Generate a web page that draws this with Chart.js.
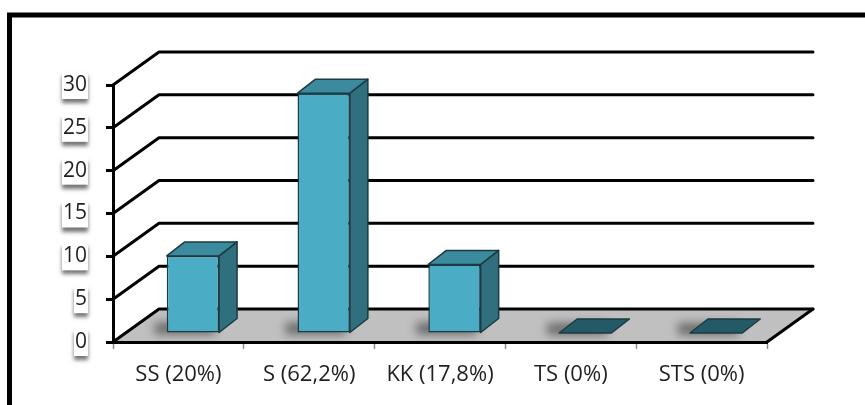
<!DOCTYPE html>
<html>
<head>
<meta charset="utf-8">
<script src="https://cdn.jsdelivr.net/npm/chart.js@4.4.1/dist/chart.umd.min.js"></script>
<style>
  html, body { margin: 0; padding: 0; background: #fff; }
  #wrap { width: 865px; height: 405px; }
</style>
</head>
<body>
<div id="wrap"><canvas id="surveyChart" width="865" height="405"></canvas></div>
<script>
const categories = ["SS (20%)", "S (62,2%)", "KK (17,8%)", "TS (0%)", "STS (0%)"];
const respondents = [9, 28, 8, 0, 0];
const yMax = 30;
const yStep = 5;

// depth of the side/back walls, of the bar row and of each bar's cap
const WALL_DX = 46, WALL_DY = -33;
const BAR_DX = 14.5, BAR_DY = -9;
const CAP_DX = 18, CAP_DY = -14;

const FRONT = "#4bacc6";
const TOP = "#3b8a9d";
const SIDE = "#306f7e";
const FLAT = "#245a66";
const EDGE = "#1c3a42";
const TEXT = "#1f1f1f";

function poly(ctx, pts, fill) {
  ctx.beginPath();
  ctx.moveTo(pts[0][0], pts[0][1]);
  for (let i = 1; i < pts.length; i++) ctx.lineTo(pts[i][0], pts[i][1]);
  ctx.closePath();
  ctx.fillStyle = fill;
  ctx.fill();
  ctx.stroke();
}

const depthPlugin = {
  id: "depth",
  beforeDraw(chart) {
    const { ctx, chartArea: a, scales: { y } } = chart;
    const y0 = y.getPixelForValue(0);
    ctx.save();

    // outer frame
    ctx.strokeStyle = "#000";
    ctx.lineWidth = 5;
    ctx.strokeRect(9.5, 15, 1000, 600);

    // floor
    ctx.fillStyle = "#c0c0c0";
    ctx.beginPath();
    ctx.moveTo(a.left, y0);
    ctx.lineTo(a.right, y0);
    ctx.lineTo(a.right + WALL_DX, y0 + WALL_DY);
    ctx.lineTo(a.left + WALL_DX, y0 + WALL_DY);
    ctx.closePath();
    ctx.fill();

    // grid lines running along the side wall and the back wall
    ctx.lineWidth = 3;
    ctx.lineCap = "round";
    ctx.lineJoin = "round";
    y.ticks.forEach(t => {
      const py = y.getPixelForValue(t.value);
      ctx.beginPath();
      ctx.moveTo(a.left, py);
      ctx.lineTo(a.left + WALL_DX, py + WALL_DY);
      ctx.lineTo(a.right + WALL_DX, py + WALL_DY);
      ctx.stroke();
    });
    ctx.beginPath();
    ctx.moveTo(a.right, y0);
    ctx.lineTo(a.right + WALL_DX, y0 + WALL_DY);
    ctx.stroke();

    // white label plates with a soft shadow underneath
    ctx.font = "21px 'Open Sans'";
    const right = a.left - 7 - 19;
    y.ticks.forEach(t => {
      const py = y.getPixelForValue(t.value);
      const w = ctx.measureText(String(t.value)).width;
      ctx.shadowColor = "rgba(0,0,0,0.55)";
      ctx.shadowBlur = 4;
      ctx.shadowOffsetX = 0;
      ctx.shadowOffsetY = 4;
      ctx.fillStyle = "#fff";
      ctx.fillRect(right - w - 1, py - 13, w + 2, 27);
    });
    ctx.restore();
  },
  beforeDatasetsDraw(chart) {
    const { ctx } = chart;
    const bars = chart.getDatasetMeta(0).data;
    ctx.save();
    ctx.translate(BAR_DX, BAR_DY);
    // shadows on the floor
    ctx.save();
    ctx.filter = "blur(5px)";
    ctx.fillStyle = "rgba(0,0,0,0.45)";
    bars.forEach(b => {
      const { x, base, width } = b.getProps(["x", "base", "width"], true);
      ctx.fillRect(x - width / 2 - 12, base - 10, width + 8, 12);
    });
    ctx.restore();
  },
  afterDatasetsDraw(chart) {
    const { ctx } = chart;
    const bars = chart.getDatasetMeta(0).data;
    ctx.strokeStyle = EDGE;
    ctx.lineWidth = 1.5;
    ctx.lineJoin = "round";
    bars.forEach(b => {
      const { x, y, base, width } = b.getProps(["x", "y", "base", "width"], true);
      const x1 = x - width / 2, x2 = x + width / 2;
      const flat = Math.abs(base - y) < 1;
      if (!flat) {
        poly(ctx, [[x2, y], [x2 + CAP_DX, y + CAP_DY], [x2 + CAP_DX, base + CAP_DY], [x2, base]], SIDE);
      }
      poly(ctx, [[x1, y], [x1 + CAP_DX, y + CAP_DY], [x2 + CAP_DX, y + CAP_DY], [x2, y]], flat ? FLAT : TOP);
    });
    ctx.restore();
  }
};

new Chart(document.getElementById("surveyChart"), {
  type: "bar",
  data: {
    labels: categories,
    datasets: [{
      data: respondents,
      backgroundColor: FRONT,
      borderColor: EDGE,
      borderWidth: 1.5,
      borderSkipped: false,
      categoryPercentage: 1,
      barPercentage: 0.4
    }]
  },
  options: {
    responsive: false,
    animation: false,
    devicePixelRatio: 1,
    layout: { padding: { left: 13, top: 85, right: 98, bottom: 0 } },
    plugins: { legend: { display: false }, tooltip: { enabled: false } },
    scales: {
      x: {
        afterFit(scale) { scale.height = 63; },
        grid: { drawOnChartArea: false, offset: true, tickLength: 7, tickColor: "#8c8c8c", tickWidth: 1.5 },
        border: { color: "#000", width: 3 },
        ticks: { color: TEXT, font: { family: "'Open Sans'", size: 22 }, padding: 13, maxRotation: 0 }
      },
      y: {
        min: 0,
        max: yMax,
        afterFit(scale) { scale.width = 100; },
        grid: { drawOnChartArea: false, tickLength: 7, tickColor: "#000", tickWidth: 3 },
        border: { color: "#000", width: 3 },
        ticks: { stepSize: yStep, color: TEXT, font: { family: "'Open Sans'", size: 21 }, padding: 19 }
      }
    }
  },
  plugins: [depthPlugin]
});
</script>
</body>
</html>
